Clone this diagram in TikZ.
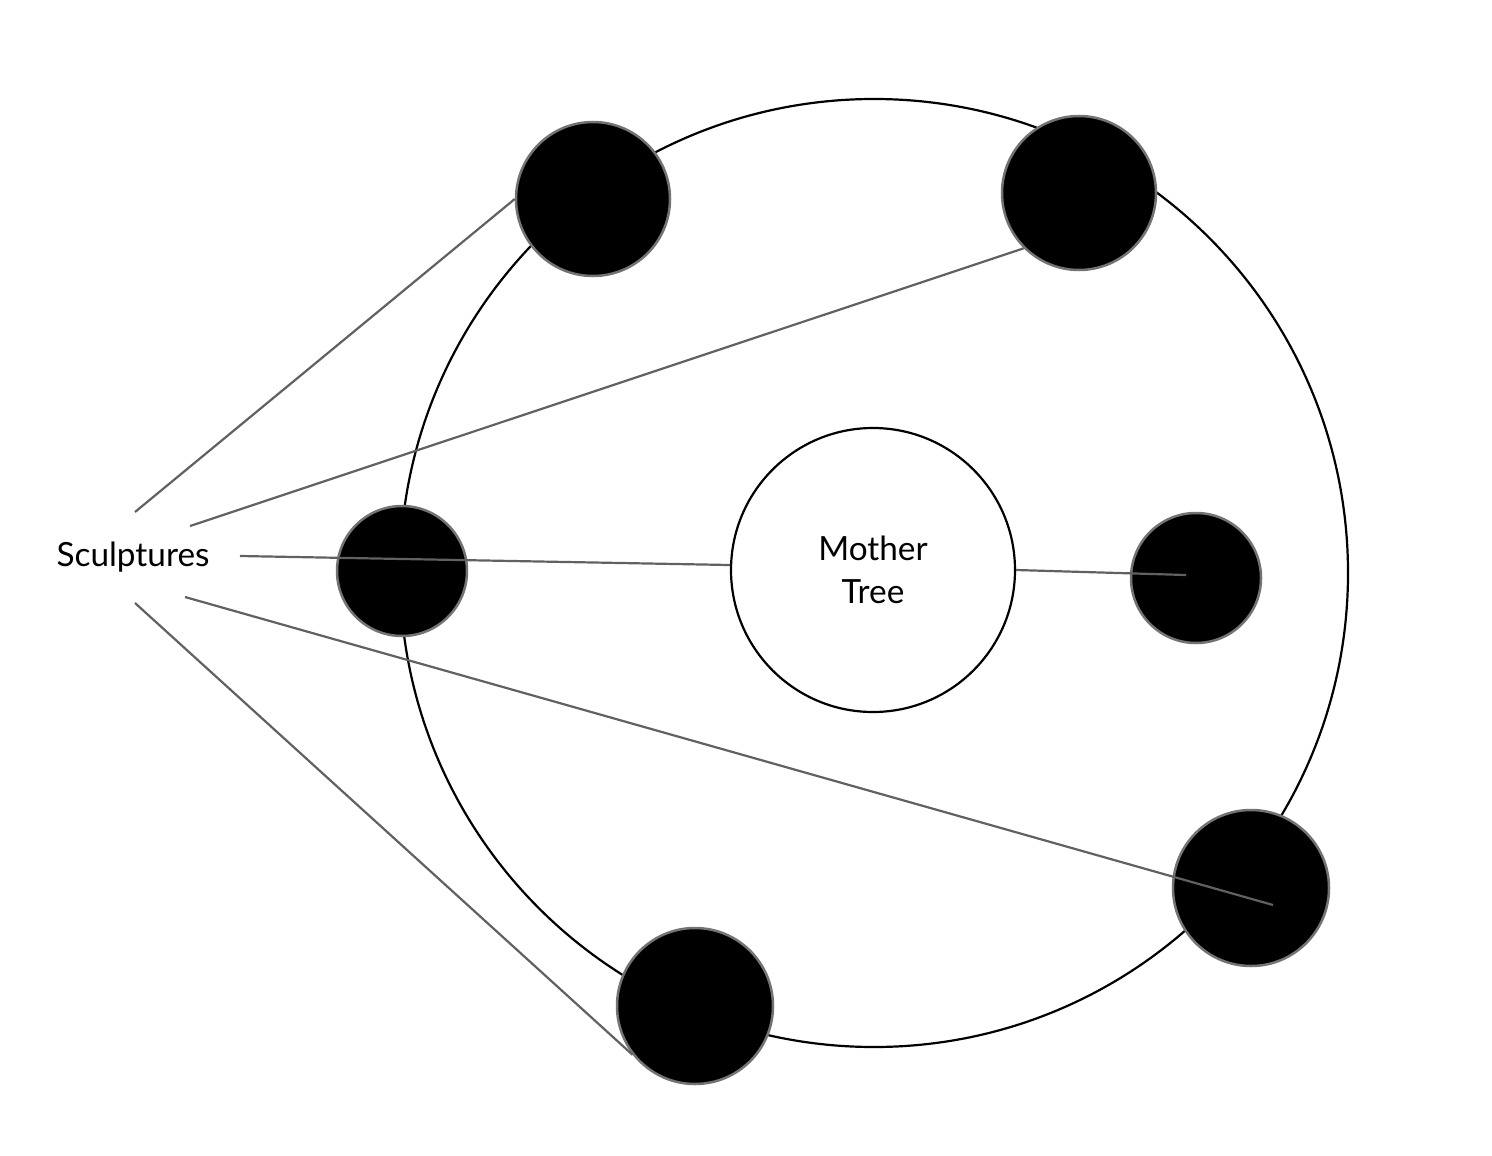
\documentclass[tikz,border=0pt]{standalone}
\usepackage{fontspec}
\setmainfont{Lato}
\newdimen\pxu \pxu=0.75pt
\tikzset{
  ring/.style={draw=black, line width=2.2\pxu, circle, inner sep=0pt},
  dot/.style={draw=black!55, fill=black, line width=2.5\pxu, circle, inner sep=0pt},
  link/.style={draw=black!62, line width=2.2\pxu},
  lbl/.style={font=\fontsize{25}{32}\selectfont, align=center}
}
\begin{document}
\begin{tikzpicture}[x=0.75pt,y=-0.75pt]
\useasboundingbox[fill=white] (0,0) rectangle (1492,1156);
\node[ring, minimum size=948\pxu] (big) at (874,573) {};
\node[ring, minimum size=284\pxu, lbl] (mt) at (873,570) {Mother\\Tree};
\node[lbl, anchor=base] (sc) at (133,566) {Sculptures};
\coordinate (s1) at (135,512);
\coordinate (s2) at (190,526);
\coordinate (s3) at (240,556);
\coordinate (s5) at (185,597);
\coordinate (s6) at (135,603);
\node[dot, minimum size=154\pxu] (c1) at (593,199) {};
\node[dot, minimum size=154\pxu] (c2) at (1079,193) {};
\node[dot, minimum size=130\pxu] (c3) at (402,571) {};
\node[dot, minimum size=130\pxu] (c4) at (1196,578) {};
\node[dot, minimum size=156\pxu] (c5) at (1251,888) {};
\node[dot, minimum size=156\pxu] (c6) at (695,1006) {};
\coordinate (e4) at (1186,575);
\coordinate (e5) at (1273,905);
\draw[link] (s1) -- (c1.west);
\draw[link] (s2) -- (c2.225);
\draw[link] (s3) -- (mt.178);
\draw[link] (mt.east) -- (e4);
\draw[link] (s5) -- (e5);
\draw[link] (s6) -- (c6.218);
\end{tikzpicture}
\end{document}
